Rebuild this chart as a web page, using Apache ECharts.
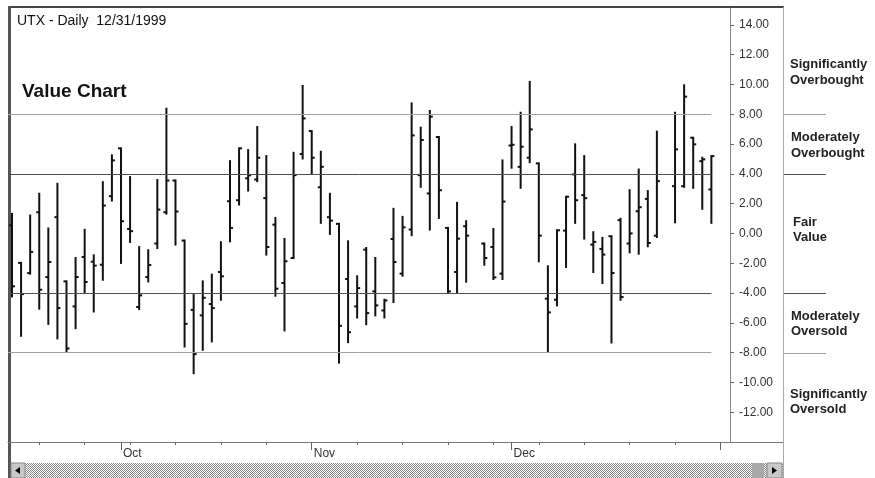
<!DOCTYPE html>
<html>
<head>
<meta charset="utf-8">
<script src="https://cdn.jsdelivr.net/npm/echarts@6/dist/echarts.min.js"></script>
<style>
  html, body { margin: 0; padding: 0; background: #fff; }
  #main { width: 875px; height: 478px; }
</style>
</head>
<body>
<div id="main"></div>
<script>
// trading days, weekdays only (holidays left empty), axis runs on to 2000-01-03
var dates = [
  '1999-09-15','1999-09-16','1999-09-17','1999-09-20','1999-09-21','1999-09-22','1999-09-23','1999-09-24',
  '1999-09-27','1999-09-28','1999-09-29','1999-09-30','1999-10-01','1999-10-04','1999-10-05','1999-10-06',
  '1999-10-07','1999-10-08','1999-10-11','1999-10-12','1999-10-13','1999-10-14','1999-10-15','1999-10-18',
  '1999-10-19','1999-10-20','1999-10-21','1999-10-22','1999-10-25','1999-10-26','1999-10-27','1999-10-28',
  '1999-10-29','1999-11-01','1999-11-02','1999-11-03','1999-11-04','1999-11-05','1999-11-08','1999-11-09',
  '1999-11-10','1999-11-11','1999-11-12','1999-11-15','1999-11-16','1999-11-17','1999-11-18','1999-11-19',
  '1999-11-22','1999-11-23','1999-11-24','1999-11-25','1999-11-26','1999-11-29','1999-11-30','1999-12-01',
  '1999-12-02','1999-12-03','1999-12-06','1999-12-07','1999-12-08','1999-12-09','1999-12-10','1999-12-13',
  '1999-12-14','1999-12-15','1999-12-16','1999-12-17','1999-12-20','1999-12-21','1999-12-22','1999-12-23',
  '1999-12-24','1999-12-27','1999-12-28','1999-12-29','1999-12-30','1999-12-31','2000-01-03'
];
var openV = [
  0.55,-1.98,-2.66,1.42,-2.93,1.09,-3.22,-4.9,-1.58,-1.9,-2.1,2.5,5.71,0.3,-4.94,-2.93,
  -0.68,1.42,3.55,-0.48,-5.13,-5.5,-4.74,-2.59,2.16,2.23,3.7,3.62,2.37,0.59,-3.33,-1.65,
  5.33,6.87,3.1,1.09,0.64,-3.06,-4.9,-1.09,-3.89,-5.17,-0.37,-2.7,0.26,3.91,2.68,6.47,
  0.37,-2.59,0.48,null,-0.68,-0.91,-2.7,5.9,4.47,5.08,4.7,-4.38,-4.45,0.19,3.96,2.57,
  -0.75,-1.04,-0.19,0.89,-0.68,1.49,2.32,-0.15,null,3.17,3.17,6.42,4.85,2.95,null
];
var highV = [
  1.31,-1.98,1.2,2.66,0.33,3.33,-3.22,-1.65,0.24,-1.47,3.44,5.24,5.71,3.78,-0.92,-1.13,
  3.58,8.37,3.55,-0.48,-4.14,-3.22,-2.77,-0.59,4.85,5.71,5.59,7.14,5.19,1.04,-0.37,5.41,
  9.9,6.87,5.48,2.66,0.64,-0.53,-2.88,-0.98,-1.65,-4.45,1.65,1.11,8.73,7.1,8.22,6.47,
  0.37,2.05,0.82,null,-0.68,0.3,4.9,7.14,8.1,10.17,4.7,-2.21,0.21,2.46,5.98,5.19,
  0.08,-0.3,-0.19,0.98,2.9,4.29,2.84,6.83,null,8.1,9.94,6.42,5.08,5.19,null
];
var lowV = [
  -4.23,-6.87,-2.7,-5.05,-6.07,-7.05,-7.93,-6.36,-3.96,-5.24,-3.11,2.21,-1.98,-0.57,-5.08,-3.22,
  -0.98,1.33,-0.75,-7.59,-9.38,-7.81,-7.25,-4.45,-0.53,1.94,2.88,3.51,-1.42,-4.18,-6.51,-1.65,
  5.03,4.0,0.71,-0.03,-8.67,-7.3,-5.64,-6.09,-5.5,-5.64,-4.61,-2.84,-0.12,3.13,0.26,1.04,
  -3.96,-3.96,-3.24,null,-2.1,-3.06,-3.06,4.41,3.06,4.78,-1.87,-7.93,-4.83,-2.25,0.71,-0.35,
  -2.59,-3.33,-7.32,-4.45,-1.27,-1.36,-0.86,-0.24,null,0.75,3.13,3.06,1.65,0.71,null
];
var closeV = [
  -3.55,-4.07,-1.24,-3.78,-1.92,-5.01,-7.72,-2.93,-3.26,-2.16,1.87,4.9,0.82,0.15,-4.16,-2.12,
  1.6,3.55,1.47,-6.07,-8.1,-4.32,-5.01,-2.88,0.37,5.71,3.9,5.08,-0.91,-3.71,-1.87,3.91,
  7.72,5.08,4.47,0.86,-6.2,-6.63,-3.67,-5.35,-4.83,-4.5,-1.92,0.41,6.58,6.27,7.84,2.9,
  -3.89,-0.35,-0.15,null,-1.65,-2.95,2.14,5.95,5.82,6.98,-0.15,-5.3,0.21,2.46,2.23,2.37,
  -0.57,-1.42,-2.66,-4.27,0.0,1.76,-0.64,3.51,null,5.64,9.18,5.98,4.97,5.19,null
];
var yTicks = [-12,-10,-8,-6,-4,-2,0,2,4,6,8,10,12,14];
var monthNames = ['Jan','Feb','Mar','Apr','May','Jun','Jul','Aug','Sep','Oct','Nov','Dec'];
var levels = [8, 4, -4, -8];
var zones = [
  ['Significantly', 'Overbought'],
  ['Moderately', 'Overbought'],
  ['Fair', 'Value'],
  ['Moderately', 'Oversold'],
  ['Significantly', 'Oversold']
];

var chart = echarts.init(document.getElementById('main'));

var ohlc = [];
var lastIdx = 0;
for (var i = 0; i < dates.length; i++) {
  if (openV[i] == null) continue;
  ohlc.push([i, openV[i], highV[i], lowV[i], closeV[i]]);
  lastIdx = i;
}

// weekly ticks on mondays, tall ticks + labels on the first trading day of a month
var weekTicks = [], monthTicks = [], monthLabel = {};
for (var i = 0; i < dates.length; i++) {
  var d = new Date(dates[i] + 'T12:00:00');
  if (d.getDay() === 1) weekTicks.push(i);
  var prev = i > 0 ? dates[i - 1].slice(5, 7) : dates[i].slice(5, 7);
  if (i > 0 && prev !== dates[i].slice(5, 7)) {
    monthTicks.push(i);
    monthLabel[i] = i < lastIdx ? monthNames[d.getMonth()] : '';
  }
}
var monthLabelTicks = monthTicks.filter(function (v) { return monthLabel[v] !== ''; });

var xMin = -0.44, xMax = 79.05;
var font = 'Arial, "Liberation Sans", sans-serif';

chart.setOption({
  backgroundColor: '#fff',
  animation: false,
  grid: { left: 8, right: 145, top: 8, bottom: 36 },
  xAxis: [{
    type: 'value', min: xMin, max: xMax, position: 'bottom',
    axisLine: { onZero: false, lineStyle: { color: '#777', width: 1 } },
    axisTick: { customValues: weekTicks, length: 3, lineStyle: { color: '#666' } },
    axisLabel: { show: false },
    splitLine: { show: false }
  }, {
    type: 'value', min: xMin, max: xMax, position: 'bottom',
    axisLine: { show: false, onZero: false },
    axisTick: { customValues: monthTicks, length: 8, lineStyle: { color: '#666' } },
    axisLabel: {
      customValues: monthLabelTicks, margin: 6, color: '#333', fontSize: 12, fontFamily: font,
      align: 'left', padding: [0, 0, 0, 2],
      formatter: function (v) { return monthLabel[v] || ''; }
    },
    splitLine: { show: false }
  }],
  yAxis: {
    type: 'value', position: 'right', min: -14, max: 15.13,
    axisLine: { show: true, onZero: false, lineStyle: { color: '#888' } },
    axisTick: { customValues: yTicks, length: 4, lineStyle: { color: '#666' } },
    axisLabel: {
      customValues: yTicks, margin: 9, color: '#333', fontSize: 12, fontFamily: font,
      formatter: function (v) { return v.toFixed(2); }
    },
    splitLine: { show: false }
  },
  series: [{
    type: 'custom',
    xAxisIndex: 0,
    data: ohlc,
    encode: { x: 0, y: [1, 2, 3, 4] },
    renderItem: function (params, api) {
      var x = api.value(0);
      var pO = api.coord([x, api.value(1)]);
      var pH = api.coord([x, api.value(2)]);
      var pL = api.coord([x, api.value(3)]);
      var pC = api.coord([x, api.value(4)]);
      var st = { stroke: '#111', lineWidth: 2 };
      return {
        type: 'group',
        children: [
          { type: 'line', shape: { x1: pH[0], y1: pH[1] - 1, x2: pL[0], y2: pL[1] + 1 }, style: st },
          { type: 'line', shape: { x1: pO[0] - 3, y1: pO[1], x2: pO[0], y2: pO[1] }, style: st },
          { type: 'line', shape: { x1: pC[0], y1: pC[1], x2: pC[0] + 3, y2: pC[1] }, style: st }
        ]
      };
    },
    markLine: {
      silent: true, symbol: 'none', label: { show: false }, animation: false,
      data: levels.map(function (lv) {
        var outer = Math.abs(lv) === 8;
        return [
          { coord: [xMin, lv], lineStyle: { color: outer ? '#a0a0a0' : '#505050', width: 1, type: 'solid' } },
          { coord: [lastIdx, lv] }
        ];
      })
    }
  }]
});

// frame, titles, zone notes and scrollbar
var hatch = document.createElement('canvas');
hatch.width = 2; hatch.height = 2;
var hc = hatch.getContext('2d');
hc.fillStyle = '#fff'; hc.fillRect(0, 0, 2, 2);
hc.fillStyle = '#8a8a8a'; hc.fillRect(0, 0, 1, 1); hc.fillRect(1, 1, 1, 1);

var g = [];
g.push({ type: 'rect', shape: { x: 8, y: 6, width: 776, height: 2 }, style: { fill: '#444' } });
g.push({ type: 'rect', shape: { x: 8, y: 6, width: 3, height: 472 }, style: { fill: '#555' } });
g.push({ type: 'line', shape: { x1: 783.5, y1: 7, x2: 783.5, y2: 478 }, style: { stroke: '#aaa', lineWidth: 1 } });
g.push({ type: 'line', shape: { x1: 730, y1: 442.5, x2: 783, y2: 442.5 }, style: { stroke: '#777', lineWidth: 1 } });

g.push({ type: 'text', x: 17, y: 21, style: { text: 'UTX - Daily  12/31/1999', font: '14px ' + font, fill: '#111', textVerticalAlign: 'middle' } });
g.push({ type: 'text', x: 22, y: 92, style: { text: 'Value Chart', font: 'bold 19px ' + font, fill: '#111', textVerticalAlign: 'middle' } });

levels.forEach(function (lv) {
  var y = Math.round(chart.convertToPixel({ yAxisIndex: 0 }, lv)) + 0.5;
  var outer = Math.abs(lv) === 8;
  g.push({ type: 'line', shape: { x1: 784, y1: y, x2: 826, y2: y }, style: { stroke: outer ? '#a0a0a0' : '#505050', lineWidth: 1 } });
});

var zoneY = [[64, 80.5], [137, 153], [222, 237.5], [316, 331.5], [394, 409.5]];
var zoneX = [790, 791, 793, 791, 790];
zones.forEach(function (z, k) {
  z.forEach(function (t, j) {
    g.push({ type: 'text', x: zoneX[k], y: zoneY[k][j], style: { text: t, font: 'bold 13px ' + font, fill: '#222', textVerticalAlign: 'middle' } });
  });
});

// scrollbar
g.push({ type: 'rect', shape: { x: 11, y: 463, width: 772, height: 15 }, style: { fill: { image: hatch, repeat: 'repeat' } } });
g.push({ type: 'rect', shape: { x: 11, y: 463, width: 14, height: 15 }, style: { fill: '#c8c8c8', stroke: '#888', lineWidth: 1 } });
g.push({ type: 'polygon', shape: { points: [[15, 470.5], [20, 467], [20, 474]] }, style: { fill: '#000' } });
g.push({ type: 'rect', shape: { x: 752, y: 463, width: 12, height: 15 }, style: { fill: '#a8a8a8' } });
g.push({ type: 'rect', shape: { x: 767, y: 463, width: 15, height: 15 }, style: { fill: '#c8c8c8', stroke: '#888', lineWidth: 1 } });
g.push({ type: 'polygon', shape: { points: [[777, 470.5], [772, 467], [772, 474]] }, style: { fill: '#000' } });

chart.setOption({ graphic: g });
</script>
</body>
</html>
